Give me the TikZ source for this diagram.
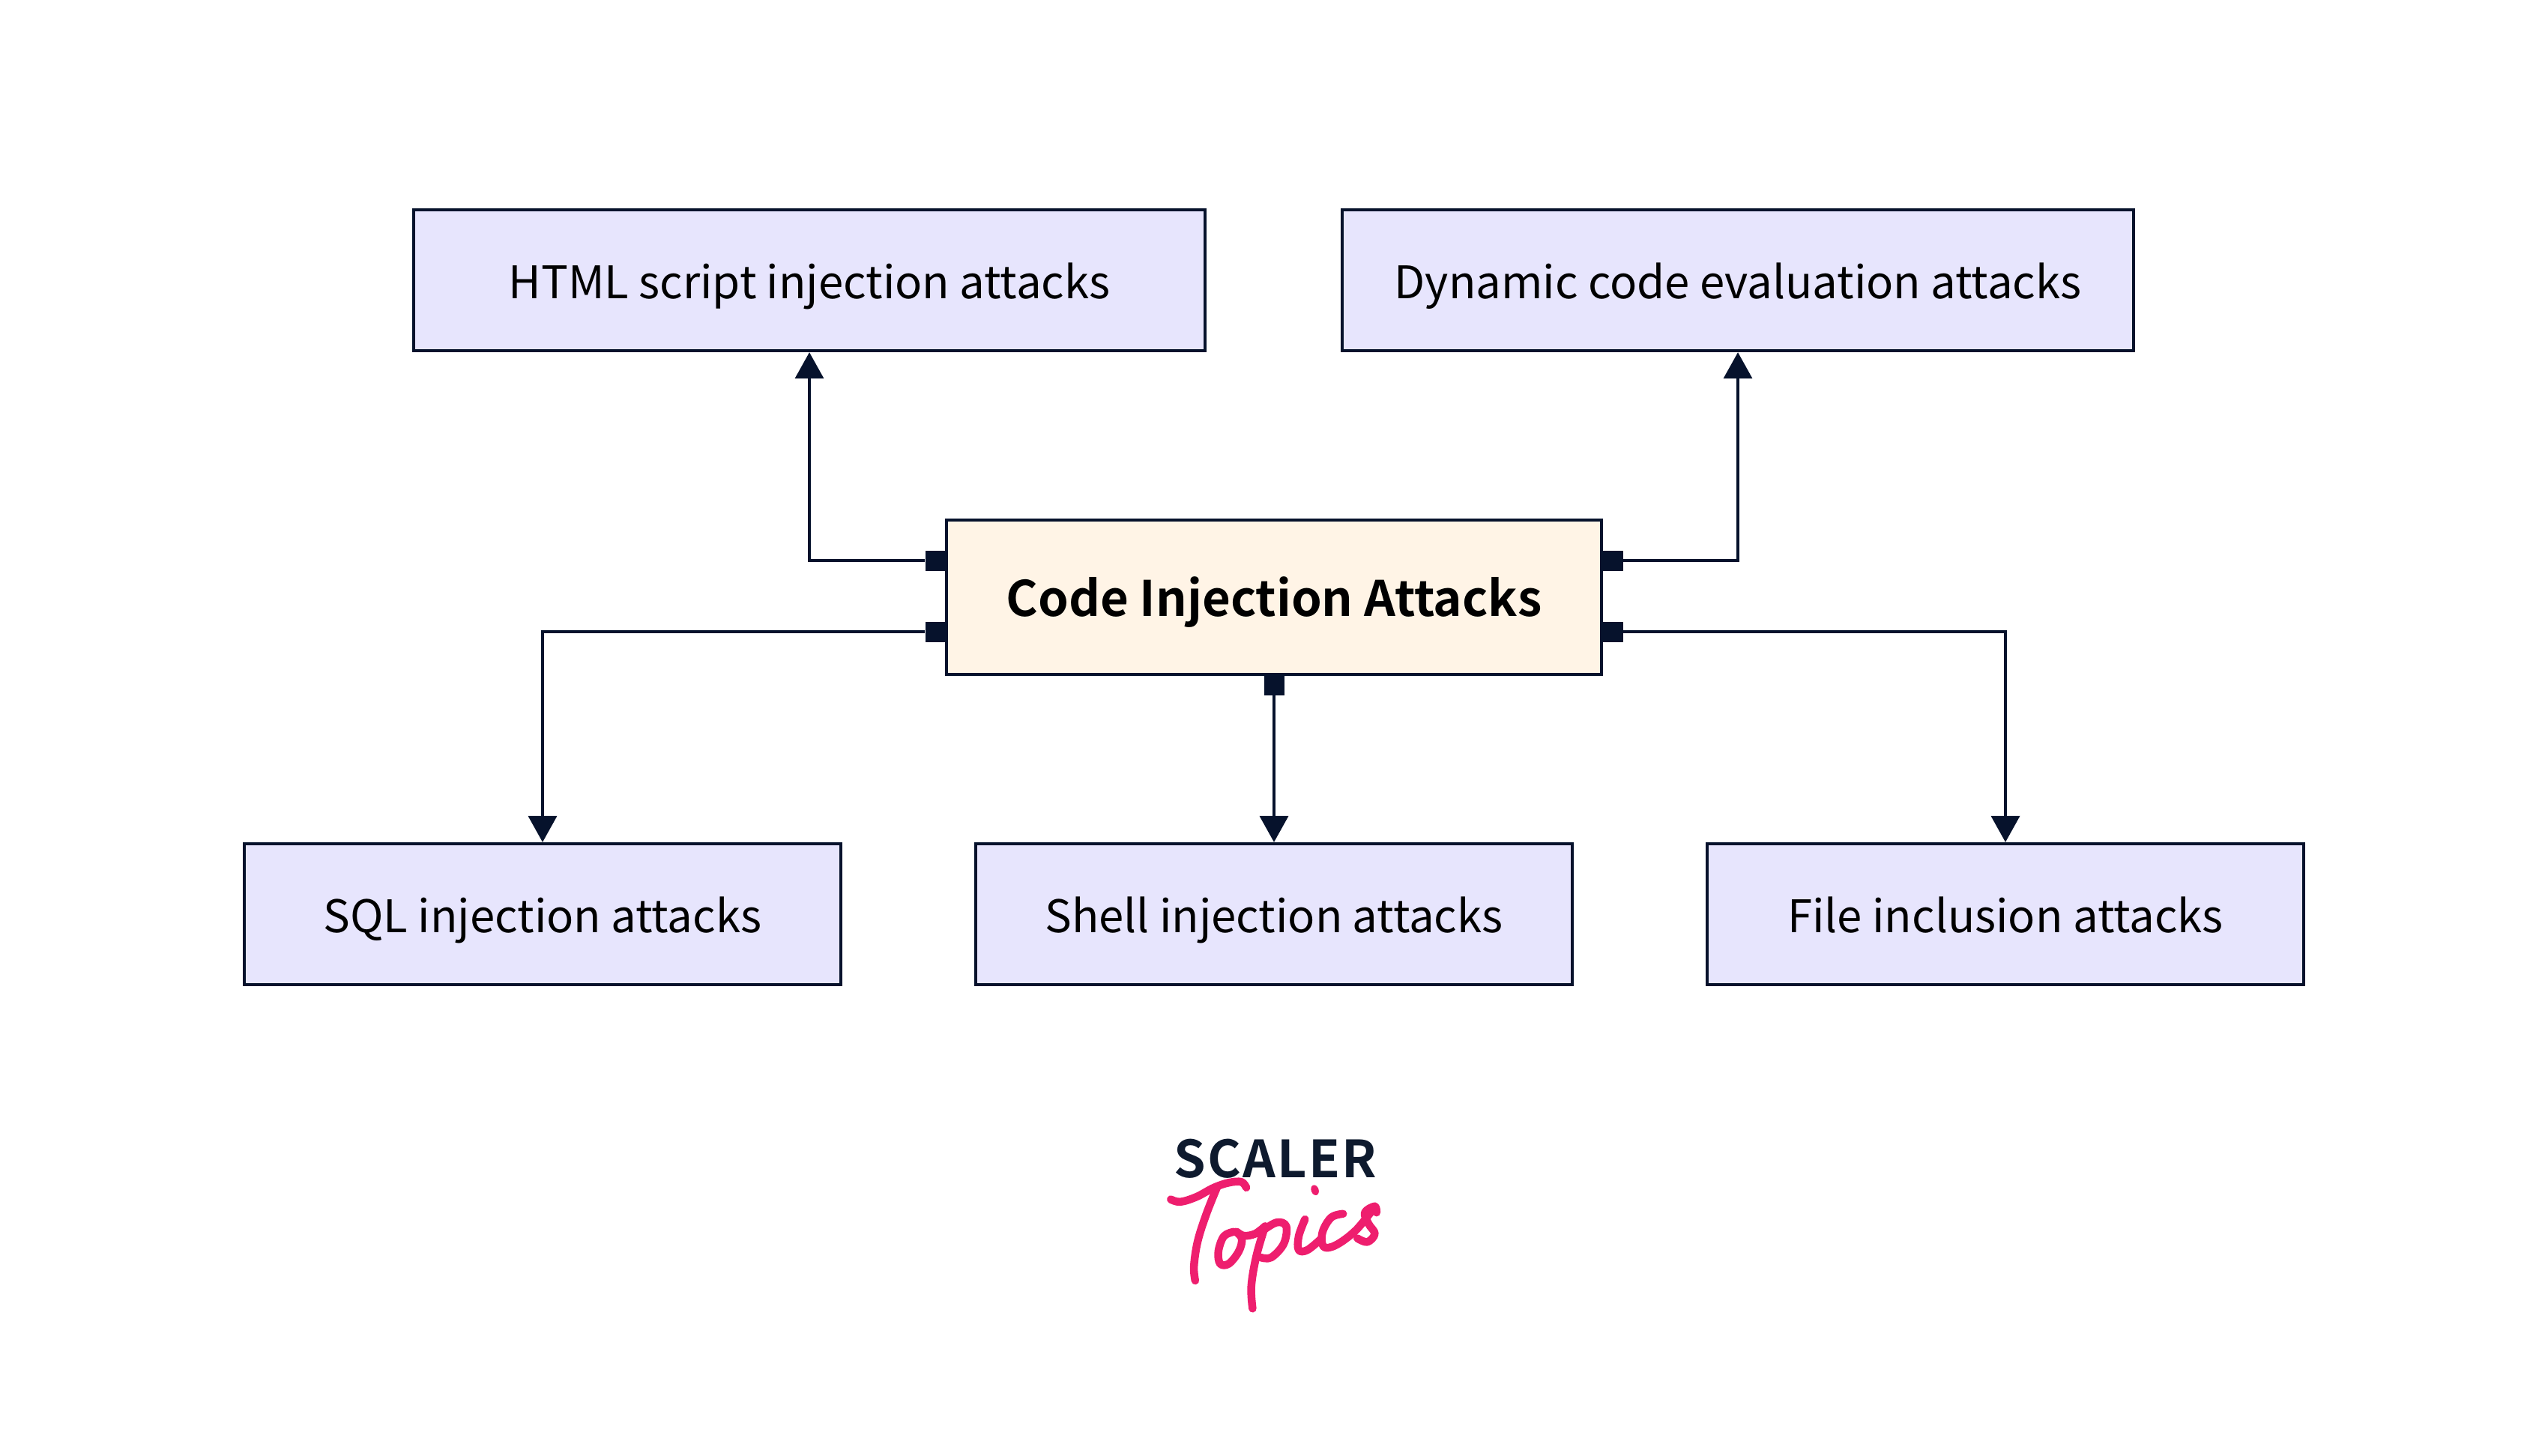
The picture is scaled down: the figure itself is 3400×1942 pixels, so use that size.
\documentclass[tikz,border=0pt]{standalone}
\usepackage{fontspec}
\usepackage{xcolor}
\usepackage{tikz}
\usetikzlibrary{arrows.meta,positioning}
\setmainfont{Noto Sans CJK SC}
\newfontfamily\rootfont{Noto Sans CJK SC Bold}
\newfontfamily\logofont[LetterSpace=3.5]{Noto Sans CJK SC Bold}
\definecolor{inknavy}{HTML}{06122C}
\definecolor{boxlilac}{HTML}{E7E5FD}
\definecolor{boxcream}{HTML}{FFF4E6}
\definecolor{logopink}{HTML}{EE1E6E}
\definecolor{logonavy}{HTML}{0E1A2E}

\begin{document}
\begin{tikzpicture}[x=0.01cm,y=-0.01cm,
    leafbox/.style={draw=inknavy,fill=boxlilac,line width=1.2pt,inner sep=0pt,minimum height=1.88cm,text height=0.6cm,text depth=0.12cm,font=\fontsize{17.03pt}{20pt}\selectfont,text=black},
    rootbox/.style={draw=inknavy,fill=boxcream,line width=1.2pt,inner sep=0pt,minimum width=8.74cm,minimum height=2.06cm,text height=0.62cm,text depth=0.12cm,font=\rootfont\fontsize{18.55pt}{22pt}\selectfont,text=black},
    port/.style={fill=inknavy,inner sep=0pt,minimum size=0.27cm},
    link/.style={draw=inknavy,line width=1pt,-{Triangle[length=0.35cm,width=0.38cm]}},
    swash/.style={draw=logopink,line width=0.105cm,line cap=round,line join=round}]
  \useasboundingbox (0,0) rectangle (3400,1942);

  \node[rootbox] (root) at (1700,797) {Code Injection Attacks};
  \node[leafbox,minimum width=10.56cm] (html) at (1080,374) {HTML script injection attacks};
  \node[leafbox,minimum width=10.56cm] (dyn) at (2319,374) {Dynamic code evaluation attacks};
  \node[leafbox,minimum width=7.96cm] (sql) at (724,1220) {SQL injection attacks};
  \node[leafbox,minimum width=7.96cm] (shell) at (1700,1220) {Shell injection attacks};
  \node[leafbox,minimum width=7.96cm] (file) at (2676,1220) {File inclusion attacks};

  \node[port] (pa) at (1248,748) {};
  \node[port] (pb) at (1248,843) {};
  \node[port] (pc) at (2152,748) {};
  \node[port] (pd) at (2152,843) {};
  \node[port] (pe) at (1700,914) {};

  \draw[link] (pa) -| (html);
  \draw[link] (pc) -| (dyn);
  \draw[link] (pb) -| (sql);
  \draw[link] (pd) -| (file);
  \draw[link] (pe) -- (shell);

  % logo
  \node[font=\logofont\fontsize{19.4pt}{22pt}\selectfont,text=logonavy] (scaler) at (1702,1546) {SCALER};
  \begin{scope}[shift={(1500,1490)},x=0.00333cm,y=-0.00333cm]
    \draw[swash] plot[smooth,tension=0.6] coordinates {(187,332) (225,342) (290,322) (360,285) (420,265) (470,262) (490,285)};
    \draw[swash] plot[smooth,tension=0.6] coordinates {(372,285) (330,390) (295,500) (280,600) (285,658)};
    \draw[swash] plot[smooth,tension=0.6] coordinates {(440,462) (400,480) (378,540) (385,590) (420,590) (460,540) (472,490) (450,462) (480,478) (525,470) (565,440)};
    \draw[swash] plot[smooth,tension=0.6] coordinates {(565,440) (530,560) (510,680) (515,770)};
    \draw[swash] plot[smooth,tension=0.6] coordinates {(545,465) (610,425) (650,440) (640,510) (590,565) (548,565)};
    \draw[swash] plot[smooth,tension=0.6] coordinates {(725,412) (700,480) (700,535) (735,535) (790,490)};
    \draw[swash] plot[smooth,tension=0.6] coordinates {(878,390) (830,405) (795,465) (800,522) (850,515) (930,455) (1005,362)};
    \draw[swash] plot[smooth,tension=0.6] coordinates {(1012,385) (1005,360) (965,385) (980,430) (1005,470) (975,503) (935,488)};
    \fill[logopink,rotate around={20:(765,295)}] (765,295) ellipse [x radius=15,y radius=21];
  \end{scope}
\end{tikzpicture}
\end{document}
